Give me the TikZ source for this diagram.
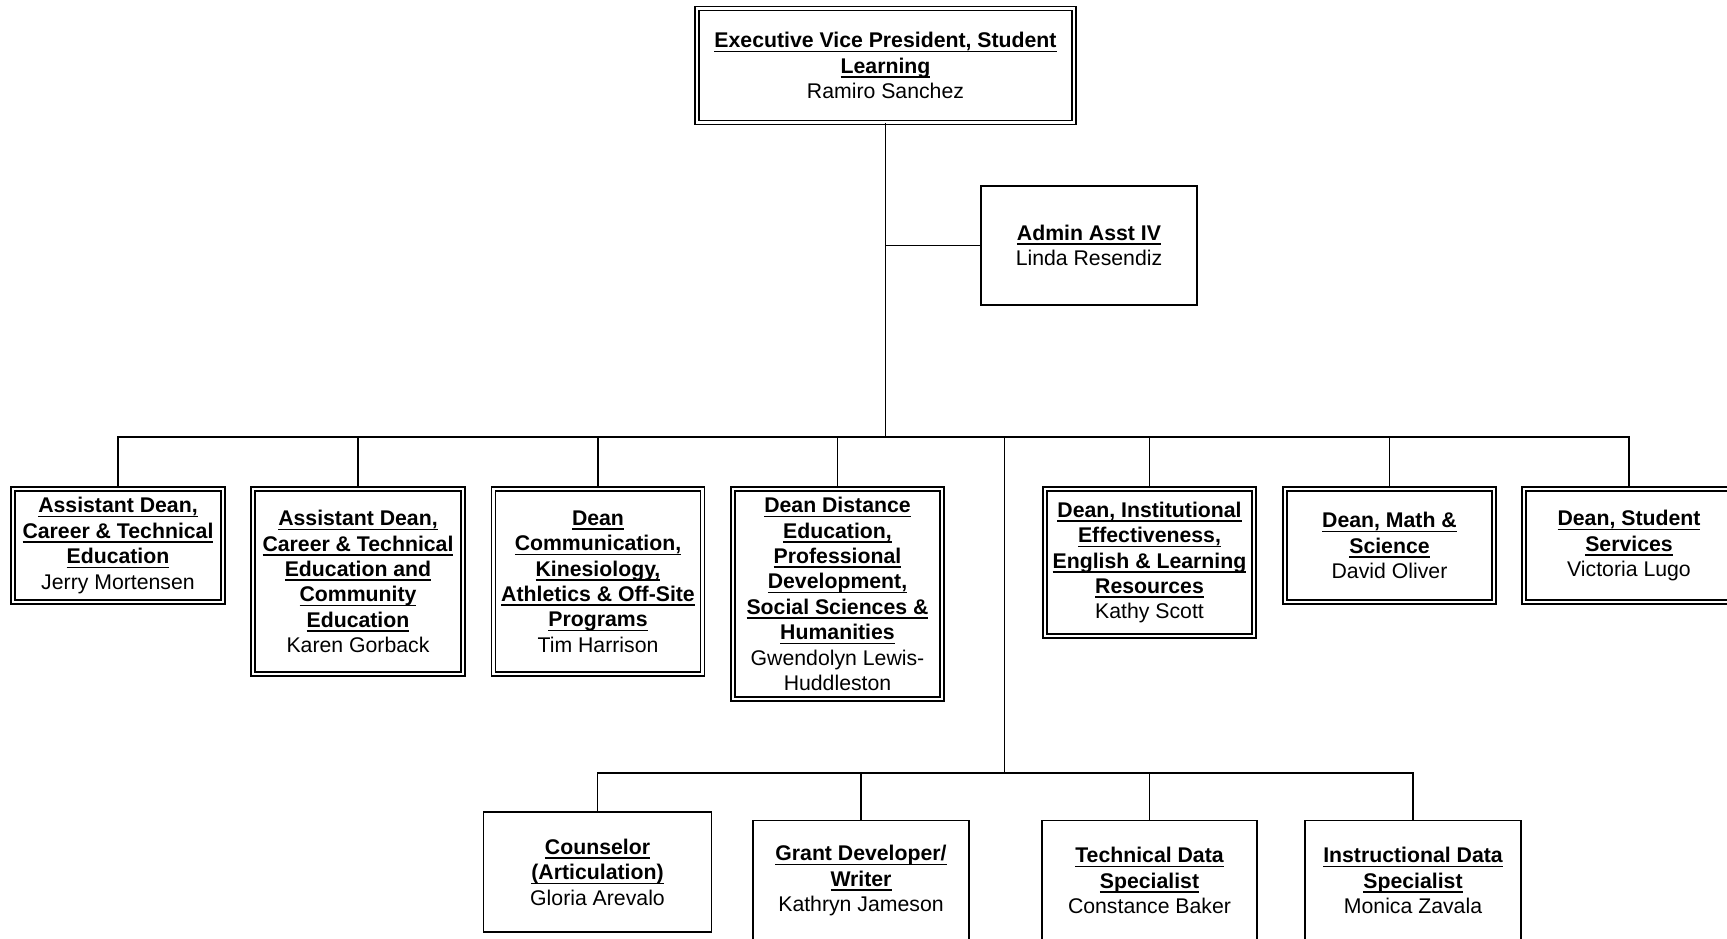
\documentclass[tikz,border=0pt]{standalone}
\usepackage{fontspec}
\setmainfont{Liberation Sans}
\usepackage{tikz}
\tikzset{post/.style={draw,double,double distance=2.4pt,line width=1.6pt,align=center,inner sep=0pt,font=\fontsize{21.25}{25.4}\selectfont}}
\tikzset{staff/.style={draw,line width=1.3pt,align=center,inner sep=0pt,font=\fontsize{21.25}{25.4}\selectfont}}
\tikzset{link/.style={line width=1.3pt}}
\newcommand{\ttl}[1]{\setbox0=\hbox{\bfseries #1}\rlap{\rule[-4.5pt]{\wd0}{1.6pt}}\box0}

\begin{document}
\begin{tikzpicture}[x=1pt,y=-1pt]
  \useasboundingbox (0,0) rectangle (1727,938);

  \node[post, minimum width=377pt, minimum height=114pt] (evp) at (885.5,65.5)
    {\ttl{Executive Vice President, Student}\\ \ttl{Learning}\\ Ramiro Sanchez};
  \node[staff, minimum width=216pt, minimum height=119pt] (admin) at (1089,245.5)
    {\ttl{Admin Asst IV}\\ Linda Resendiz};

  % deans
  \node[post, minimum width=210pt, minimum height=113pt] (b1) at (118,545.5)
    {\ttl{Assistant Dean,}\\ \ttl{Career \& Technical}\\ \ttl{Education}\\ Jerry Mortensen};
  \node[post, minimum width=210pt, minimum height=185pt] (b2) at (358,581.5)
    {\ttl{Assistant Dean,}\\ \ttl{Career \& Technical}\\ \ttl{Education and}\\ \ttl{Community}\\ \ttl{Education}\\ Karen Gorback};
  \node[post, minimum width=209pt, minimum height=185pt] (b3) at (598,581.5)
    {\ttl{Dean}\\ \ttl{Communication,}\\ \ttl{Kinesiology,}\\ \ttl{Athletics \& Off-Site}\\ \ttl{Programs}\\ Tim Harrison};
  \node[post, minimum width=209pt, minimum height=210pt] (b4) at (837.5,594)
    {\ttl{Dean Distance}\\ \ttl{Education,}\\ \ttl{Professional}\\ \ttl{Development,}\\ \ttl{Social Sciences \&}\\ \ttl{Humanities}\\ Gwendolyn Lewis-\\ Huddleston};
  \node[post, minimum width=209pt, minimum height=147pt] (b5) at (1149.5,562.5)
    {\ttl{Dean, Institutional}\\ \ttl{Effectiveness,}\\ \ttl{English \& Learning}\\ \ttl{Resources}\\ Kathy Scott};
  \node[post, minimum width=209pt, minimum height=113pt] (b6) at (1389.5,545.5)
    {\ttl{Dean, Math \&}\\ \ttl{Science}\\ David Oliver};
  \node[post, minimum width=210pt, minimum height=113pt] (b7) at (1629,545.5)
    {\ttl{Dean, Student}\\ \ttl{Services}\\ Victoria Lugo};

  % staff
  \node[staff, minimum width=228pt, minimum height=120pt] (c1) at (597.5,872)
    {\ttl{Counselor}\\ \ttl{(Articulation)}\\ Gloria Arevalo};
  \node[staff, minimum width=216pt, minimum height=120pt] (c2) at (861,880.5)
    {\ttl{Grant Developer/}\\ \ttl{Writer}\\ Kathryn Jameson};
  \node[staff, minimum width=215pt, minimum height=120pt] (c3) at (1149.5,880.5)
    {\ttl{Technical Data}\\ \ttl{Specialist}\\ Constance Baker};
  \node[staff, minimum width=216pt, minimum height=120pt] (c4) at (1413,880.5)
    {\ttl{Instructional Data}\\ \ttl{Specialist}\\ Monica Zavala};

  \coordinate (bus) at (885.5,437);
  \coordinate (split) at (1004.5,437);
  \coordinate (lbus) at (1004.5,773);

  \draw[link] (evp.south) -- (bus);
  \draw[link] (admin.west) -- (admin.west -| evp.south);
  \draw[link] (b1.north) |- (bus) -| (b7.north);
        \foreach \i in {2,...,6}
          \draw[link] (b\i.north) -- (b\i.north |- bus);
  \draw[link] (split) -- (lbus);
  \draw[link] (c1.north) |- (lbus) -| (c4.north);
        \foreach \i in {2,3}
          \draw[link] (c\i.north) -- (c\i.north |- lbus);
\end{tikzpicture}
\end{document}
